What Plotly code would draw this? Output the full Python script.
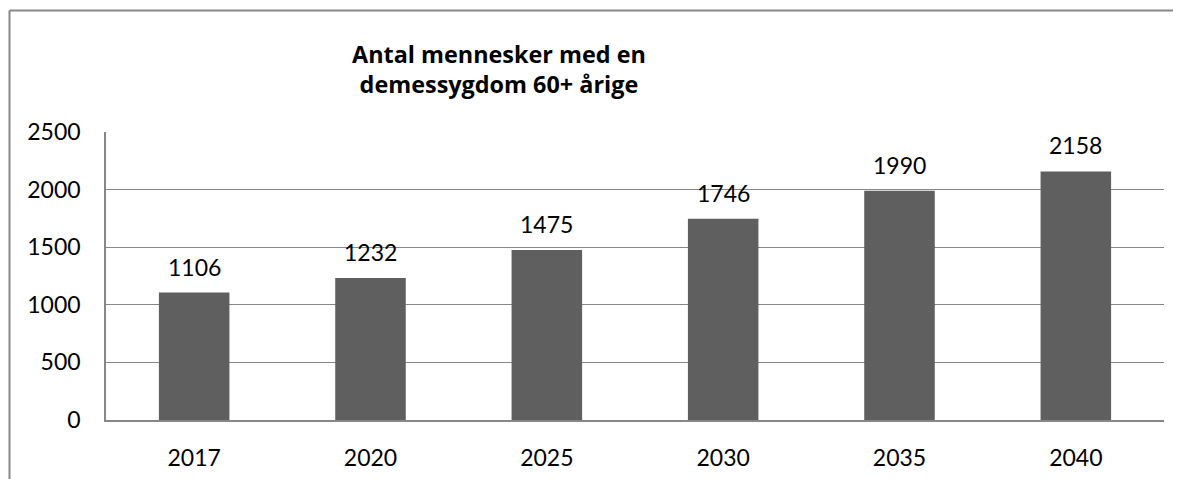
import plotly.graph_objects as go

years = ["2017", "2020", "2025", "2030", "2035", "2040"]
values = [1106, 1232, 1475, 1746, 1990, 2158]
title_lines = ["Antal mennesker med en", "demessygdom 60+ årige"]

FONT = "Lato, Calibri, Carlito, sans-serif"
TFONT = "Open Sans, Calibri, sans-serif"
OFF = 8  # page body margin
W, H = 1181 - OFF, 479 - OFF
# target plot area in page pixels: x 106..1164, y 132..419.5
L, T = 106 - OFF, 132 - OFF
R = W - (1164 - OFF)
B = H - (420 - OFF)
pw, ph = W - L - R, H - T - B

fig = go.Figure()
fig.add_trace(go.Bar(
    x=years, y=values, width=0.4,
    marker=dict(color="#5f5f5f", line=dict(width=0)),
    hoverinfo="x+y",
))
for i, yv in enumerate(values):
    fig.add_annotation(x=i, y=yv, text=str(yv), showarrow=False,
                       yanchor="bottom", yshift=10,
                       font=dict(family=FONT, size=23, color="#000"))

fig.add_annotation(xref="paper", yref="paper",
                   x=(499 - OFF - L) / pw, y=(H - B - (69 - OFF)) / ph,
                   text="<br>".join(title_lines), showarrow=False,
                   xanchor="center", yanchor="middle",
                   font=dict(family=TFONT, size=23.4, color="#000", weight="bold"))

# outer chart border (left and top edges visible in the frame)
bx0 = (9.5 - OFF - L) / pw
by1 = (H - B - (10.5 - OFF)) / ph
bx1 = (W + 10 - L) / pw
fig.add_shape(type="line", xref="paper", yref="paper",
              x0=bx0, x1=bx1, y0=by1, y1=by1,
              line=dict(color="#878787", width=2), layer="above")
fig.add_shape(type="line", xref="paper", yref="paper",
              x0=bx0, x1=bx0, y0=-0.5, y1=by1,
              line=dict(color="#878787", width=2), layer="above")

fig.update_layout(
    width=W, height=H,
    margin=dict(l=L, r=R, t=T, b=B, autoexpand=False),
    paper_bgcolor="white", plot_bgcolor="white",
    showlegend=False,
    font=dict(family=FONT, size=23, color="#000"),
    xaxis=dict(type="category", range=[-0.5, 5.5], autorange=False,
               automargin=False,
               showgrid=False, showline=True,
               linecolor="#878787", linewidth=1.5, ticks="",
               ticklabelstandoff=17, tickfont=dict(size=23)),
    yaxis=dict(range=[0, 2500], dtick=500, showgrid=True, automargin=False,
               gridcolor="#878787", gridwidth=1.2, showline=True,
               linecolor="#878787", linewidth=1.5, ticks="",
               ticklabelstandoff=19, tickfont=dict(size=23), zeroline=False),
)

fig.write_html("out.html",
               post_script="document.documentElement.style.overflow='hidden';"
                           "document.body.style.overflow='hidden';")
